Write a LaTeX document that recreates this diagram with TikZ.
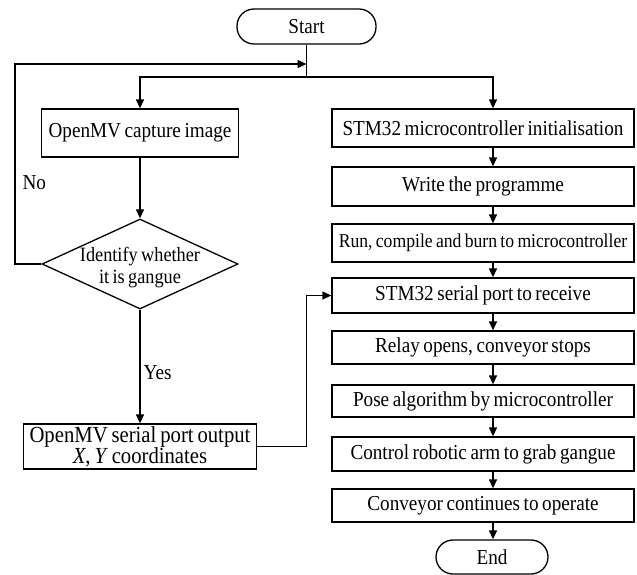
\documentclass[tikz,border=0pt]{standalone}
\usepackage{fontspec}
\setmainfont[FakeStretch=0.9,WordSpace=0.75]{Liberation Serif}
\usetikzlibrary{arrows.meta,shapes.geometric,calc}
\begin{document}
\begin{tikzpicture}[x=1pt,y=-1pt,line width=1.3pt,
  every node/.style={font=\fontsize{21.3}{22}\selectfont},
  box/.style={draw,rectangle,inner sep=0pt,align=center},
  term/.style={draw,rectangle,rounded corners=17pt,inner sep=0pt},
  arr/.style={-{Triangle[length=9pt,width=8pt]}},
  lbl/.style={inner sep=0pt}]
\fill[white] (0,0) rectangle (637,574);
\useasboundingbox (0,0) rectangle (637,574);
% nodes
\node[term,minimum width=139pt,minimum height=35pt] (start) at (306.5,26.5) {Start};
\node[box,minimum width=197pt,minimum height=48pt] (cap) at (140,133) {OpenMV capture image};
\node[draw,diamond,minimum width=196pt,minimum height=90pt,inner sep=0pt] (dia) at (140,264) {};
\node[align=center,inner sep=0pt,font=\fontsize{20.3}{22}\selectfont] (diat) at (140,268) {Identify whether\\it is gangue};
\node[box,minimum width=233pt,minimum height=45pt,font=\fontsize{23}{21}\selectfont] (out) at (140,446.5) {OpenMV serial port output\\\textit{X}, \textit{Y} coordinates};
\node[box,minimum width=302pt,minimum height=38pt] (r1) at (483,128) {STM32 microcontroller initialisation};
\node[box,minimum width=302pt,minimum height=39pt] (r2) at (483,186.5) {Write the programme};
\node[box,minimum width=302pt,minimum height=38pt,font=\fontsize{19.6}{20}\selectfont] (r3) at (483,243) {Run, compile and burn to microcontroller};
\node[box,minimum width=302pt,minimum height=35pt] (r4) at (483,295.5) {STM32 serial port to receive};
\node[box,minimum width=302pt,minimum height=33pt] (r5) at (483,347.5) {Relay opens, conveyor stops};
\node[box,minimum width=302pt,minimum height=32pt] (r6) at (483,401) {Pose algorithm by microcontroller};
\node[box,minimum width=302pt,minimum height=34pt] (r7) at (483,454) {Control robotic arm to grab gangue};
\node[box,minimum width=302pt,minimum height=33pt] (r8) at (483,505.5) {Conveyor continues to operate};
\node[term,minimum width=112pt,minimum height=34pt] (end) at (492,557) {End};
\node[lbl,anchor=west] (no) at (22,183) {No};
% junctions
\coordinate (split) at (306.5,77);
\coordinate (rcol) at (493,77);
\coordinate (lc) at (15,64);
\coordinate (entry) at (306.5,64);
% connectors
\draw (start.south) -- (split);
\draw[arr] (split) -| (cap.north);
\draw[arr] (split) -- (rcol) -- (rcol |- r1.north);
\draw[arr] (cap.south) -- (dia.north);
\draw[arr] (dia.south) -- node[lbl,anchor=west,pos=0.55,xshift=3pt] (yes) {Yes} (out.north);
\draw[arr] (dia.west) -| (lc) -- (entry);
\draw[arr] (out.east) -| (start.south |- r4.west) -- (r4.west);
\foreach \a/\b in {r1/r2,r2/r3,r3/r4,r4/r5,r5/r6,r6/r7,r7/r8,r8/end}
  \draw[arr] (\a.south -| rcol) -- (\b.north -| rcol);
\end{tikzpicture}
\end{document}
